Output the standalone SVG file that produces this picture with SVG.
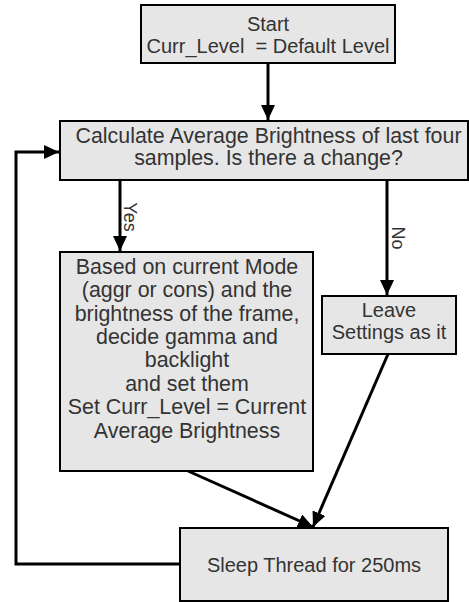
<svg xmlns="http://www.w3.org/2000/svg" width="469" height="602" viewBox="0 0 469 602">
<style>
.box{fill:#e6e6e6;stroke:#000;stroke-width:2}
.t{font-family:"Liberation Sans",Arial,sans-serif;font-size:20px;fill:#333;text-anchor:middle}
.big{font-size:21.4px}
.lbl{font-family:"Liberation Sans",Arial,sans-serif;font-size:18px;fill:#333;text-anchor:middle}
.c{fill:none;stroke:#000;stroke-width:3}
</style>
<defs>
<marker id="ah" markerUnits="userSpaceOnUse" markerWidth="16" markerHeight="14" refX="15" refY="7" orient="auto">
<path d="M0,0 L15,7 L0,14 z" fill="#000"/>
</marker>
</defs>
<rect x="0" y="0" width="469" height="602" fill="#fff"/>
<g id="connectors">
<line class="c" x1="268" y1="63" x2="268" y2="120" marker-end="url(#ah)"/>
<polyline class="c" points="180,564 16,564 16,152 59,152" marker-end="url(#ah)"/>
<line class="c" x1="120" y1="180" x2="120" y2="251" marker-end="url(#ah)"/>
<line class="c" x1="387" y1="180" x2="387" y2="295" marker-end="url(#ah)"/>
<line class="c" x1="388" y1="354" x2="313" y2="527" marker-end="url(#ah)"/>
<line class="c" x1="188" y1="471" x2="313" y2="527" marker-end="url(#ah)"/>
<text class="lbl" transform="translate(124,217) rotate(90)">Yes</text>
<text class="lbl" transform="translate(392,238) rotate(90)">No</text>
</g>
<g id="start">
<rect class="box" x="141" y="5" width="254" height="58"/>
<text class="t" x="268" y="31">Start</text>
<text class="t" x="268" y="53" xml:space="preserve">Curr_Level  = Default Level</text>
</g>
<g id="calc">
<rect class="box" x="60" y="121" width="408" height="59"/>
<text class="t big" x="268.5" y="143">Calculate Average Brightness of last four</text>
<text class="t big" x="268.5" y="165">samples. Is there a change?</text>
</g>
<g id="based">
<rect class="box" x="60" y="252" width="253" height="219"/>
<text class="t big" x="187" y="274">Based on current Mode</text>
<text class="t big" x="187" y="297">(aggr or cons) and the</text>
<text class="t big" x="187" y="321">brightness of the frame,</text>
<text class="t big" x="187" y="344">decide gamma and</text>
<text class="t big" x="187" y="367">backlight</text>
<text class="t big" x="187" y="391">and set them</text>
<text class="t big" x="187" y="414">Set Curr_Level = Current</text>
<text class="t big" x="187" y="438">Average Brightness</text>
</g>
<g id="leave">
<rect class="box" x="322" y="296" width="134" height="58"/>
<text class="t" x="389" y="317">Leave</text>
<text class="t" x="389" y="339">Settings as it</text>
</g>
<g id="sleep">
<rect class="box" x="180" y="528" width="268" height="73"/>
<text class="t" x="314" y="572">Sleep Thread for 250ms</text>
</g>
</svg>
